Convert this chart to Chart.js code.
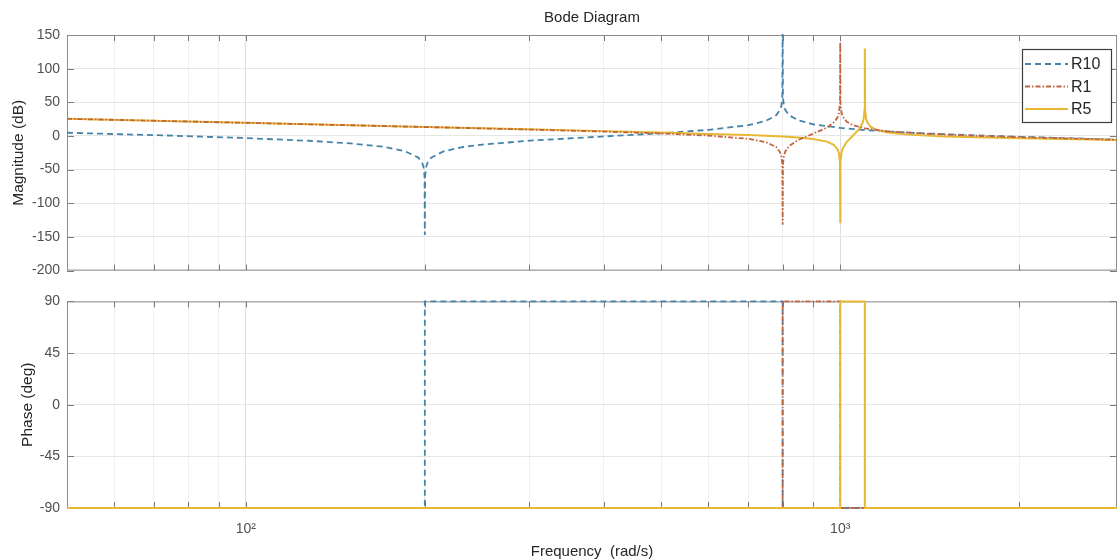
<!DOCTYPE html>
<html>
<head>
<meta charset="utf-8">
<script src="https://cdn.jsdelivr.net/npm/chart.js@4.4.1/dist/chart.umd.min.js"></script>
<style>
  html, body { margin: 0; padding: 0; background: #fff; }
  #wrap { position: relative; width: 1118px; height: 559px; overflow: hidden; background: #fff; }
  canvas { position: absolute; left: 0; }
  #mag { top: 0; }
  #phase { top: 286px; }
</style>
</head>
<body>
<div id="wrap">
  <canvas id="mag" width="1118" height="286"></canvas>
  <canvas id="phase" width="1118" height="273"></canvas>
</div>
<script>
// ---- Series names ----
const seriesNames = ['R10', 'R1', 'R5'];

// ---- Frequency axis (rad/s) ----
const freqMin = 50;
const freqMax = 2922;
const xTickValues = [60, 70, 80, 90, 100, 200, 300, 400, 500, 600, 700, 800, 900, 1000, 2000];
const xLabelValues = [100, 1000];
const xLabelTexts = ['10\u00B2', '10\u00B3'];

// ---- Magnitude axis (dB) ----
const magTicks = [150, 100, 50, 0, -50, -100, -150, -200];
// ---- Phase axis (deg) ----
const phaseTicks = [90, 45, 0, -45, -90];

// ---- Magnitude, R10 ----
const freqR10 = [50, 70, 100, 130, 150, 170, 185, 195, 198, 199, 199.8, 200, 200.2, 201, 202, 205, 215, 230, 250, 300,
                 400, 500, 600, 700, 750, 780, 792, 796, 799, 800, 801, 804, 808, 820, 850, 900, 1000, 1100, 1200, 1400,
                 1700, 2000, 2500, 2922];
const magR10 = [4.8, 1.3, -3.1, -7.5, -11.1, -16.0, -22.4, -32.1, -40.1, -46.2, -60.1, -147, -60.2, -46.2, -40.2, -32.3, -22.9, -17.0, -12.8, -7.0,
                -0.7, 4.0, 9.0, 16.0, 22.5, 30.6, 38.7, 44.7, 56.8, 175, 56.8, 44.8, 38.8, 30.9, 23.1, 17.4, 11.9, 8.8, 6.7, 3.7,
                0.8, -1.2, -3.7, -5.5];

// ---- Magnitude, R1 ----
const freqR1 = [50, 70, 100, 150, 200, 300, 400, 500, 600, 700, 750, 780, 792, 796, 799, 800, 801, 804, 808, 820,
                850, 900, 950, 980, 990, 995, 999, 1000, 1001, 1005, 1010, 1025, 1050, 1100, 1200, 1400, 1700, 2000, 2500, 2922];
const magR1 = [25.5, 22.6, 19.5, 15.9, 13.3, 9.5, 6.5, 3.7, 0.6, -4.2, -9.2, -16.3, -23.9, -29.8, -41.8, -132, -41.9, -29.6, -23.4, -15.0,
               -5.8, 3.3, 12.4, 21.7, 28.1, 34.3, 48.4, 139, 48.5, 34.7, 28.8, 21.4, 16.1, 11.2, 7.0, 3.2, 0.3, -1.7, -4.0, -5.8];

// ---- Magnitude, R5 ----
const freqR5 = [50, 70, 100, 150, 200, 300, 400, 500, 600, 700, 800, 850, 900, 950, 975, 990, 995, 999, 1000, 1001,
                1005, 1010, 1025, 1050, 1075, 1090, 1095, 1099, 1100, 1101, 1105, 1110, 1125, 1150, 1200, 1300, 1500, 2000, 2500, 2922];
const magR5 = [25.5, 22.6, 19.5, 16.0, 13.4, 9.8, 7.2, 5.0, 3.1, 1.3, -0.9, -2.3, -4.4, -8.4, -13.0, -20.0, -25.7, -39.3, -128, -39.2,
               -24.9, -18.4, -9.0, 0.3, 9.7, 19.1, 25.5, 39.8, 130, 40.0, 26.3, 20.7, 13.7, 9.1, 5.2, 2.0, -0.8, -3.2, -4.9, -6.0];

// ---- Phase (deg) ----
const phaseFreqR10 = [50, 200, 200, 800, 800, 2922];
const phaseR10 = [-90, -90, 90, 90, -90, -90];
const phaseFreqR1 = [50, 800, 800, 1000, 1000, 2922];
const phaseR1 = [-90, -90, 90, 90, -90, -90];
const phaseFreqR5 = [50, 1000, 1000, 1100, 1100, 2922];
const phaseR5 = [-90, -90, 90, 90, -90, -90];

// ---- Styling ----
const colors = ['#4683a8', '#c0643e', '#e8b834'];
const dashes = [[6, 4], [5, 2, 1.5, 2], []];
const widths = [1.8, 1.8, 2.0];
// lower order is painted on top
const magOrder = [2, 0, 1];
const phaseOrder = [2, 1, 0];

Chart.defaults.font.family = "'Liberation Sans', Arial, Helvetica, sans-serif";
Chart.defaults.color = '#505050';

function toPoints(f, v) {
  return f.map((x, i) => ({ x: x, y: v[i] }));
}

function makeDatasets(freqs, vals, order, clip) {
  return seriesNames.map((name, i) => ({
    label: name,
    data: toPoints(freqs[i], vals[i]),
    borderColor: colors[i],
    backgroundColor: colors[i],
    borderWidth: widths[i],
    borderDash: dashes[i],
    pointRadius: 0,
    tension: 0,
    fill: false,
    order: order[i],
    clip: clip
  }));
}

// Box around each axes plus inward tick marks on all four sides
const axesBox = {
  id: 'axesBox',
  beforeDatasetsDraw(chart) {
    const { ctx, chartArea: a, scales } = chart;
    ctx.save();
    ctx.strokeStyle = '#7a7a7a';
    ctx.lineWidth = 1;
    ctx.beginPath();
    xTickValues.forEach(v => {
      const px = Math.round(scales.x.getPixelForValue(v)) + 0.5;
      ctx.moveTo(px, a.top); ctx.lineTo(px, a.top + 6);
      ctx.moveTo(px, a.bottom); ctx.lineTo(px, a.bottom - 6);
    });
    scales.y.ticks.forEach(t => {
      const py = Math.round(scales.y.getPixelForValue(t.value)) + 0.5;
      ctx.moveTo(a.left, py); ctx.lineTo(a.left + 7, py);
      ctx.moveTo(a.right, py); ctx.lineTo(a.right - 7, py);
    });
    ctx.stroke();
    ctx.strokeStyle = '#8c8c8c';
    ctx.strokeRect(a.left + 0.5, a.top + 0.5, a.right - a.left - 1, a.bottom - a.top - 1);
    ctx.restore();
  }
};

// Boxed legend in the upper right corner of the magnitude axes
const boxLegend = {
  id: 'boxLegend',
  afterDatasetsDraw(chart) {
    const { ctx, chartArea: a } = chart;
    const bx = a.right - 95, by = a.top + 14, bw = 89, bh = 73;
    ctx.save();
    ctx.fillStyle = '#ffffff';
    ctx.fillRect(bx, by, bw, bh);
    ctx.strokeStyle = '#3c3c3c';
    ctx.lineWidth = 1.2;
    ctx.strokeRect(bx + 0.5, by + 0.5, bw, bh);
    ctx.font = "16px 'Liberation Sans', Arial, sans-serif";
    ctx.textBaseline = 'middle';
    ctx.textAlign = 'left';
    seriesNames.forEach((name, i) => {
      const y = by + 15 + i * 22.5;
      ctx.beginPath();
      ctx.strokeStyle = colors[i];
      ctx.lineWidth = widths[i];
      ctx.setLineDash(dashes[i]);
      ctx.moveTo(bx + 3, y);
      ctx.lineTo(bx + 46, y);
      ctx.stroke();
      ctx.setLineDash([]);
      ctx.fillStyle = '#262626';
      ctx.fillText(name, bx + 49, y + 1);
    });
    ctx.restore();
  }
};

function xScale(showLabels, titleText) {
  return {
    type: 'logarithmic',
    min: freqMin,
    max: freqMax,
    afterBuildTicks: s => { s.ticks = xTickValues.map(v => ({ value: v })); },
    afterFit: s => { s.height = showLabels ? 51 : 7; },
    border: { display: false },
    grid: {
      drawTicks: false,
      color: c => (c.tick && xLabelValues.indexOf(c.tick.value) >= 0) ? '#dedede' : '#efefef',
      lineWidth: 1
    },
    ticks: {
      display: showLabels,
      autoSkip: false,
      maxRotation: 0,
      padding: 13,
      color: '#505050',
      font: { size: 14 },
      callback: v => {
        const k = xLabelValues.indexOf(v);
        return k >= 0 ? xLabelTexts[k] : '';
      }
    },
    title: {
      display: !!titleText,
      text: titleText || '',
      color: '#262626',
      font: { size: 15, lineHeight: 1 },
      padding: { top: 0, bottom: 0 }
    }
  };
}

function yScale(min, max, step, tickList, titleText, titlePad) {
  return {
    type: 'linear',
    min: min,
    max: max,
    afterFit: s => { s.width = 67; },
    afterBuildTicks: s => { s.ticks = tickList.map(v => ({ value: v })); },
    border: { display: false },
    grid: { drawTicks: false, color: '#e6e6e6', lineWidth: 1 },
    ticks: {
      stepSize: step,
      padding: 7,
      color: '#505050',
      font: { size: 14 },
      callback: v => String(v)
    },
    title: {
      display: true,
      text: titleText,
      color: '#262626',
      font: { size: 15.5 },
      padding: { top: titlePad, bottom: 0 }
    }
  };
}

new Chart(document.getElementById('mag'), {
  type: 'line',
  data: { datasets: makeDatasets([freqR10, freqR1, freqR5], [magR10, magR1, magR5], magOrder, 1) },
  options: {
    responsive: false,
    animation: false,
    events: [],
    layout: { padding: { top: 0, right: 1, bottom: 0, left: 0 } },
    plugins: {
      legend: { display: false },
      tooltip: { enabled: false },
      title: {
        display: true,
        text: 'Bode Diagram',
        fullSize: false,
        color: '#262626',
        font: { size: 15, weight: 'normal', lineHeight: 1.2 },
        padding: { top: 9, bottom: 8 }
      }
    },
    scales: {
      x: xScale(false, null),
      y: yScale(-200, 150, 50, magTicks, 'Magnitude (dB)', 9)
    }
  },
  plugins: [axesBox, boxLegend]
});

new Chart(document.getElementById('phase'), {
  type: 'line',
  data: { datasets: makeDatasets([phaseFreqR10, phaseFreqR1, phaseFreqR5], [phaseR10, phaseR1, phaseR5], phaseOrder, false) },
  options: {
    responsive: false,
    animation: false,
    events: [],
    layout: { padding: { top: 7, right: 1, bottom: 0, left: 0 } },
    plugins: {
      legend: { display: false },
      tooltip: { enabled: false }
    },
    scales: {
      x: xScale(true, 'Frequency  (rad/s)'),
      y: yScale(-90, 90, 45, phaseTicks, 'Phase (deg)', 18)
    }
  },
  plugins: [axesBox]
});
</script>
</body>
</html>
